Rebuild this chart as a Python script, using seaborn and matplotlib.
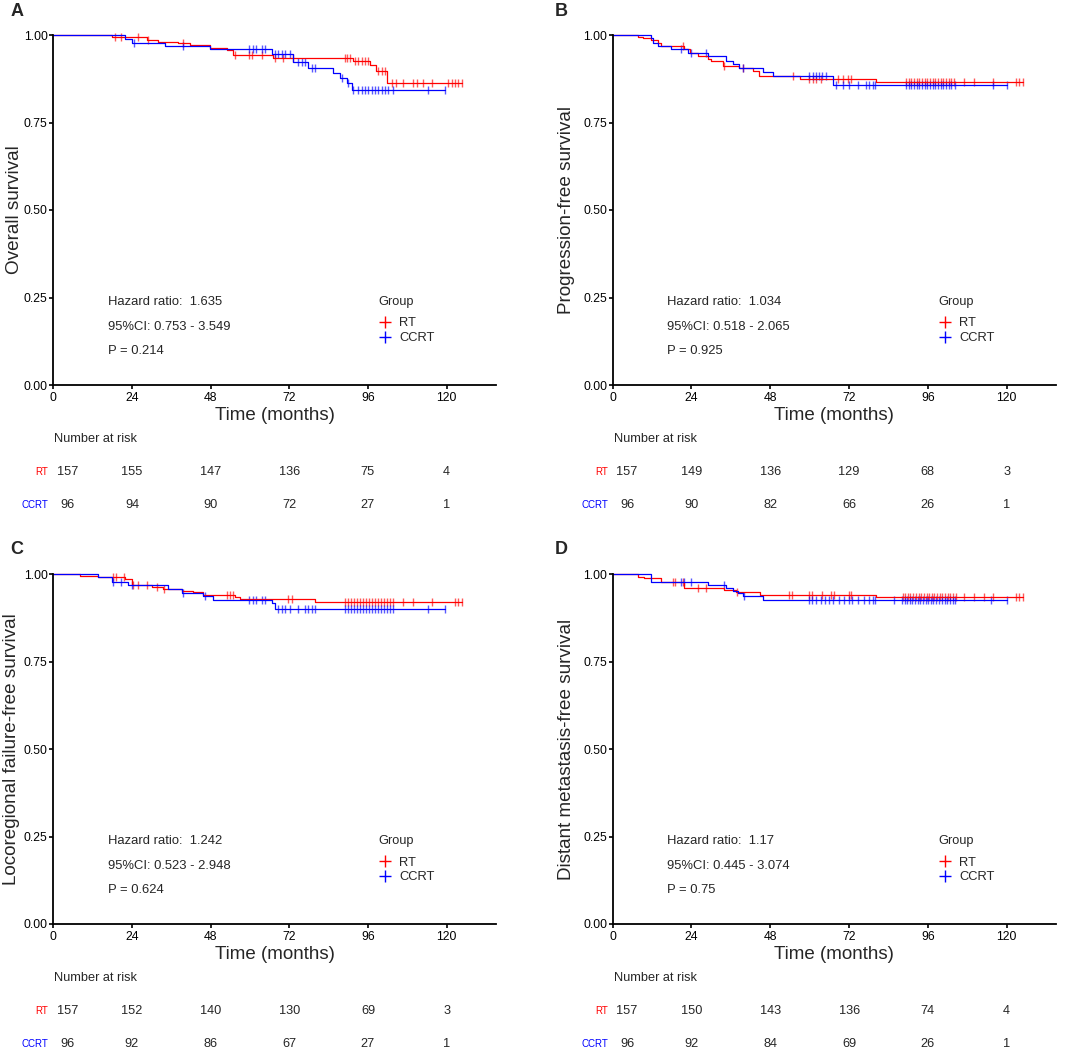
import numpy as np
import matplotlib
matplotlib.use("Agg")
import matplotlib.pyplot as plt
from matplotlib.lines import Line2D
import seaborn as sns

sns.set_style("ticks")
plt.rcParams['font.family'] = ['Liberation Sans', 'DejaVu Sans']

groups = ["RT", "CCRT"]
group_colors = ["#FF0000", "#0000FF"]
panel_letters = ["A", "B", "C", "D"]
y_titles = ["Overall survival", "Progression-free survival",
            "Locoregional failure-free survival", "Distant metastasis-free survival"]
hazard_ratio = ["1.635", "1.034", "1.242", "1.17"]
ci_text = ["0.753 - 3.549", "0.518 - 2.065", "0.523 - 2.948", "0.445 - 3.074"]
p_values = ["0.214", "0.925", "0.624", "0.75"]

risk_times = [0, 24, 48, 72, 96, 120]
risk_rt = [[157, 155, 147, 136, 75, 4], [157, 149, 136, 129, 68, 3],
           [157, 152, 140, 130, 69, 3], [157, 150, 143, 136, 74, 4]]
risk_ccrt = [[96, 94, 90, 72, 27, 1], [96, 90, 82, 66, 26, 1],
             [96, 92, 86, 67, 27, 1], [96, 92, 84, 69, 26, 1]]

# --- A: overall survival
os_rt_time = [0, 17.8, 28.5, 32.0, 38.1, 41.7, 47.8, 52.9, 54.9, 67.1, 91.5, 96.6, 98.6, 101.7]
os_rt_surv = [1.0, 0.993, 0.987, 0.981, 0.976, 0.971, 0.962, 0.957, 0.943, 0.933, 0.927, 0.914, 0.897, 0.862]
os_rt_cens = [18.8, 20.8, 25.9, 29.0, 39.5, 55.4, 59.8, 60.5, 63.6, 67.6, 70.2, 73.2, 89.0, 89.7, 90.5,
              92.0, 93.1, 94.1, 95.1, 96.1, 99.2, 100.2, 101.2, 103.2, 104.7, 106.8, 109.8, 110.9,
              112.9, 115.4, 120.5, 121.5, 122.5, 123.6, 124.6]
os_ccrt_time = [0, 21.9, 23.9, 34.1, 47.8, 66.6, 73.2, 77.8, 85.4, 87.5, 89.5, 91.0]
os_ccrt_surv = [1.0, 0.990, 0.978, 0.970, 0.959, 0.946, 0.922, 0.907, 0.892, 0.876, 0.862, 0.843]
os_ccrt_cens = [24.5, 39.7, 59.8, 60.8, 61.8, 63.6, 64.6, 67.6, 68.6, 69.7, 70.7, 72.2, 74.7, 75.8,
                76.8, 78.8, 79.8, 88.0, 90.0, 91.5, 93.1, 94.1, 95.1, 96.1, 97.1, 98.1, 99.2, 100.2,
                101.2, 102.2, 103.7, 114.4, 119.5]

# --- B: progression-free survival
pfs_rt_time = [0, 7.6, 9.1, 11.7, 13.7, 14.7, 21.8, 23.4, 25.9, 28.9, 29.9, 33.7, 38.6, 42.6, 44.7, 56.9, 80.2]
pfs_rt_surv = [1.0, 0.995, 0.991, 0.986, 0.978, 0.969, 0.959, 0.948, 0.939, 0.931, 0.925, 0.912, 0.906,
               0.898, 0.884, 0.873, 0.867]
pfs_rt_cens = [21.3, 34.0, 39.6, 54.8, 59.9, 60.9, 61.9, 63.5, 68.5, 70.1, 71.6, 72.6, 89.3, 90.2, 91.0,
               91.8, 92.6, 93.4, 94.2, 95.0, 95.8, 96.6, 97.5, 98.3, 99.1, 99.9, 100.7, 101.5, 102.3,
               103.1, 104.0, 107.1, 110.2, 115.9, 122.8, 123.9, 124.9]
pfs_ccrt_time = [0, 11.7, 12.2, 13.7, 17.8, 22.8, 28.9, 34.5, 36.5, 38.6, 45.7, 48.7, 67.0]
pfs_ccrt_surv = [1.0, 0.991, 0.978, 0.970, 0.959, 0.950, 0.939, 0.927, 0.918, 0.906, 0.893, 0.884, 0.858]
pfs_ccrt_cens = [20.8, 23.9, 28.4, 39.6, 59.9, 60.9, 61.9, 62.9, 63.9, 65.0, 68.0, 70.1, 72.1, 74.6,
                 77.2, 78.2, 79.2, 80.0, 89.3, 90.2, 91.0, 91.8, 92.6, 93.4, 94.2, 95.0, 95.8, 96.6,
                 97.5, 98.3, 99.1, 99.9, 100.7, 101.5, 102.3, 103.1, 104.2, 115.7, 120.0]

# --- C: locoregional failure-free survival
lr_rt_time = [0, 8.1, 13.7, 21.9, 23.9, 30.0, 33.6, 39.2, 42.7, 45.8, 55.4, 56.9, 79.8]
lr_rt_surv = [1.0, 0.995, 0.991, 0.986, 0.969, 0.965, 0.958, 0.953, 0.949, 0.941, 0.935, 0.928, 0.920]
lr_rt_cens = [18.3, 19.1, 21.6, 24.4, 25.9, 28.5, 31.5, 33.8, 52.9, 53.9, 54.9, 71.7, 72.7, 89.0, 89.9,
              90.8, 91.7, 92.6, 93.6, 94.5, 95.4, 96.3, 97.2, 98.1, 99.1, 100.0, 100.9, 101.8, 102.7,
              103.7, 106.8, 109.8, 115.6, 122.5, 123.6, 124.6]
lr_ccrt_time = [0, 13.7, 17.8, 22.9, 35.1, 39.2, 45.8, 48.8, 66.6, 67.6]
lr_ccrt_surv = [1.0, 0.991, 0.979, 0.968, 0.958, 0.947, 0.937, 0.927, 0.917, 0.901]
lr_ccrt_cens = [18.3, 20.8, 23.9, 39.7, 46.3, 59.8, 60.8, 61.8, 63.6, 64.6, 68.6, 69.7, 70.7, 72.2,
                74.7, 76.8, 77.8, 78.8, 79.8, 89.0, 89.9, 90.8, 91.7, 92.6, 93.6, 94.5, 95.4, 96.3,
                97.2, 98.1, 99.1, 100.0, 100.9, 101.8, 102.7, 103.7, 114.4, 119.5]

# --- D: distant metastasis-free survival
dm_rt_time = [0, 7.6, 9.6, 14.7, 21.8, 34.0, 37.6, 44.9, 80.2]
dm_rt_surv = [1.0, 0.993, 0.988, 0.977, 0.962, 0.955, 0.949, 0.942, 0.935]
dm_rt_cens = [18.3, 19.1, 21.3, 25.9, 28.4, 38.0, 53.8, 54.6, 59.9, 60.7, 63.9, 66.5, 67.3, 71.9, 72.7,
              88.3, 89.1, 89.9, 90.7, 91.5, 92.4, 93.2, 94.0, 94.8, 95.6, 96.4, 97.2, 98.0, 98.8,
              99.6, 100.4, 101.2, 102.0, 102.8, 103.7, 104.5, 107.1, 110.2, 113.2, 115.9, 122.8,
              123.9, 124.9]
dm_ccrt_time = [0, 11.7, 28.9, 34.5, 36.5, 38.1, 39.6, 45.7]
dm_ccrt_surv = [1.0, 0.979, 0.970, 0.960, 0.952, 0.946, 0.937, 0.926]
dm_ccrt_cens = [20.8, 21.8, 23.9, 34.0, 40.0, 59.9, 60.7, 61.9, 63.5, 64.8, 65.8, 67.0, 69.0, 70.6,
                71.9, 72.9, 74.6, 76.6, 78.2, 79.2, 80.0, 85.8, 88.1, 88.9, 89.7, 90.5, 91.3, 92.1,
                92.9, 93.7, 94.5, 95.3, 96.1, 96.9, 97.7, 98.5, 99.5, 100.3, 101.1, 101.9, 102.7,
                103.6, 104.4, 115.2, 120.0]

curves = [
    [(os_rt_time, os_rt_surv, os_rt_cens), (os_ccrt_time, os_ccrt_surv, os_ccrt_cens)],
    [(pfs_rt_time, pfs_rt_surv, pfs_rt_cens), (pfs_ccrt_time, pfs_ccrt_surv, pfs_ccrt_cens)],
    [(lr_rt_time, lr_rt_surv, lr_rt_cens), (lr_ccrt_time, lr_ccrt_surv, lr_ccrt_cens)],
    [(dm_rt_time, dm_rt_surv, dm_rt_cens), (dm_ccrt_time, dm_ccrt_surv, dm_ccrt_cens)],
]

W, H = 1072, 1050
fig = plt.figure(figsize=(W / 100, H / 100), dpi=100)


def rect(left, top, right, bottom):
    return [left / W, 1 - bottom / H, (right - left) / W, (bottom - top) / H]


# pixel boxes of the four plot areas
boxes = [(53.3, 35, 495.8, 385), (612.7, 35, 1055.9, 385),
         (53.3, 574.3, 495.8, 924), (612.7, 574.3, 1055.9, 924)]
ylab_x = [-0.068, -0.086, -0.076, -0.086]
letter_pos = [(17, 12), (561, 12), (17, 550), (561, 550)]

for i in range(4):
    l, t, r, b = boxes[i]
    ax = fig.add_axes(rect(l, t, r, b))
    for (tm, sv, cs), col in zip(curves[i], group_colors):
        end = max(max(tm), max(cs))
        xs = list(tm) + [end]
        ys = list(sv) + [sv[-1]]
        sns.lineplot(x=xs, y=ys, drawstyle='steps-post', color=col, linewidth=0.9,
                     estimator=None, sort=False, ax=ax, clip_on=False)
        idx = np.searchsorted(tm, cs, side='right') - 1
        cy = np.array(sv)[idx]
        sns.scatterplot(x=cs, y=cy, marker='|', s=40, color=col, linewidth=1.0,
                        alpha=0.65, ax=ax, clip_on=False)

    ax.set_xlim(0, 135)
    ax.set_ylim(0, 1)
    ax.set_xticks(risk_times)
    ax.set_yticks([0, 0.25, 0.5, 0.75, 1.0])
    ax.set_yticklabels(["0.00", "0.25", "0.50", "0.75", "1.00"])
    sns.despine(ax=ax)
    for sp in ["left", "bottom"]:
        ax.spines[sp].set_linewidth(1.3)
        ax.spines[sp].set_color("black")
    ax.tick_params(axis='both', length=3, width=1.2, color='black', labelsize=8.8,
                   labelcolor='black')
    ax.tick_params(axis='x', pad=2)
    ax.tick_params(axis='y', pad=1)
    ax.set_xlabel("Time (months)", fontsize=13.5)
    ax.set_ylabel(y_titles[i], fontsize=13.6)
    ax.xaxis.set_label_coords(0.5, -0.062)
    ax.yaxis.set_label_coords(ylab_x[i], 0.5)

    ax.text(16.6, 0.237, "Hazard ratio:  " + hazard_ratio[i], fontsize=9.4, va='center')
    ax.text(16.6, 0.167, "95%CI: " + ci_text[i], fontsize=9.4, va='center')
    ax.text(16.6, 0.097, "P = " + p_values[i], fontsize=9.4, va='center')

    ax.text(99.2, 0.238, "Group", fontsize=9.2, ha='left', va='center')
    handles = [Line2D([], [], color=c, marker='+', linestyle='none', markersize=8,
                      markeredgewidth=1.0) for c in group_colors]
    ax.legend(handles, groups, loc='upper left', bbox_to_anchor=(0.7345, 0.193),
              frameon=False, borderpad=0, borderaxespad=0, handlelength=1.0,
              handletextpad=0.6, labelspacing=0.22, fontsize=9.3)

    # number at risk table
    rax = fig.add_axes(rect(l, b + 37.5, r, b + 136.5))
    rax.set_xlim(0, 135)
    rax.set_ylim(-0.5, 2.5)
    rax.axis('off')
    rax.text(0.3, 2, "Number at risk", fontsize=9.2, ha='left', va='center')
    for row, (name, col, vals) in enumerate(zip(groups, group_colors, [risk_rt[i], risk_ccrt[i]])):
        yrow = 1 - row
        rax.text(-1.5, yrow, name, color=col, fontsize=7, ha='right', va='center', clip_on=False)
        for tt, v in zip(risk_times, vals):
            rax.text(max(tt, 4.4), yrow, str(v), fontsize=9.2, ha='center', va='center')

    fig.text(letter_pos[i][0] / W, 1 - letter_pos[i][1] / H, panel_letters[i],
             fontsize=13, fontweight='bold', ha='center', va='center')

fig.savefig("out.png", dpi=100)
